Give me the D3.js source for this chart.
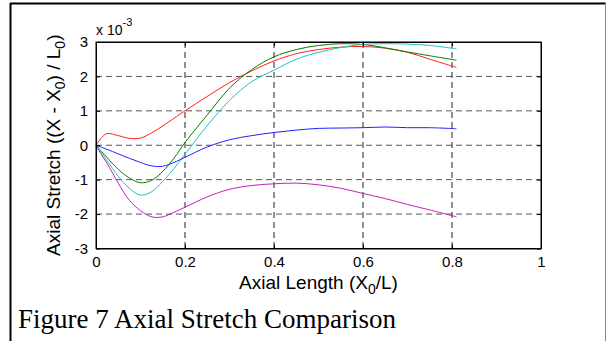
<!DOCTYPE html>
<html>
<head>
<meta charset="utf-8">
<script src="https://cdn.jsdelivr.net/npm/d3@7"></script>
<style>
  body { margin: 0; background: #fff; }
  svg text { font-family: "Liberation Sans", Arial, sans-serif; fill: #000; }
  .caption { font-family: "Liberation Serif", "Times New Roman", serif; }
</style>
</head>
<body>
<div id="chart"></div>
<script>
// data (values in units of 1e-3)
var xs = [0, 0.0125, 0.025, 0.05, 0.075, 0.1, 0.125, 0.15, 0.175, 0.2, 0.25, 0.3, 0.35, 0.4, 0.45, 0.5, 0.55, 0.6, 0.65, 0.7, 0.75, 0.81];
var red     = [0, 0.22, 0.34, 0.28, 0.2, 0.21, 0.36, 0.56, 0.78, 1.0, 1.42, 1.82, 2.16, 2.45, 2.66, 2.78, 2.85, 2.87, 2.82, 2.7, 2.5, 2.26];
var green   = [0, -0.18, -0.36, -0.7, -0.95, -1.09, -1.02, -0.76, -0.38, 0.08, 0.88, 1.66, 2.2, 2.57, 2.78, 2.9, 2.95, 2.93, 2.83, 2.71, 2.6, 2.47];
var cyan    = [0, -0.22, -0.45, -0.9, -1.25, -1.45, -1.35, -1.05, -0.68, -0.26, 0.57, 1.3, 1.85, 2.18, 2.5, 2.7, 2.84, 2.93, 2.95, 2.94, 2.9, 2.8];
var blue    = [0, -0.06, -0.12, -0.25, -0.38, -0.5, -0.6, -0.61, -0.5, -0.35, -0.05, 0.16, 0.28, 0.37, 0.44, 0.49, 0.5, 0.51, 0.53, 0.51, 0.51, 0.48];
var magenta = [0, -0.28, -0.53, -1.1, -1.6, -1.9, -2.08, -2.08, -1.95, -1.8, -1.5, -1.28, -1.17, -1.12, -1.1, -1.15, -1.25, -1.4, -1.55, -1.72, -1.88, -2.08];

var xTicks = [0, 0.2, 0.4, 0.6, 0.8, 1];
var yTicks = [-3, -2, -1, 0, 1, 2, 3];

var series = [
    {vals: red, color: "#ff2020"},
    {vals: green, color: "#008000"},
    {vals: cyan, color: "#20c0c0"},
    {vals: blue, color: "#2020ff"},
    {vals: magenta, color: "#c020c0"}
];

// set up chart
var svgWidth = 607;
var svgHeight = 341;
var margin = {top: 42, left: 96};
var width = 445;
var height = 206.5;

var svg = d3.select("#chart")
    .append("svg")
    .attr("width", svgWidth)
    .attr("height", svgHeight);

// page frame
svg.append("line").attr("x1", 10.5).attr("x2", 10.5).attr("y1", 3).attr("y2", svgHeight)
    .attr("stroke", "#000").attr("stroke-width", 2);
svg.append("line").attr("x1", 10).attr("x2", 606).attr("y1", 3.5).attr("y2", 3.5)
    .attr("stroke", "#000").attr("stroke-width", 2);
svg.append("line").attr("x1", 605.5).attr("x2", 605.5).attr("y1", 3).attr("y2", svgHeight)
    .attr("stroke", "#888").attr("stroke-width", 1);

var chartGroup = svg.append("g")
    .attr("transform", `translate(${margin.left}, ${margin.top})`);

var xScale = d3.scaleLinear().domain([0, 1]).range([0, width]);
var yScale = d3.scaleLinear().domain([-3, 3]).range([height, 0]);

// grid
chartGroup.selectAll(".hgrid")
    .data(yTicks.slice(1, -1))
    .enter()
    .append("line")
    .attr("x1", 0).attr("x2", width)
    .attr("y1", d => yScale(d)).attr("y2", d => yScale(d))
    .attr("stroke", "#555").attr("stroke-dasharray", "6,4");

chartGroup.selectAll(".vgrid")
    .data(xTicks.slice(1, -1))
    .enter()
    .append("line")
    .attr("x1", d => xScale(d)).attr("x2", d => xScale(d))
    .attr("y1", 0).attr("y2", height)
    .attr("stroke", "#222").attr("stroke-dasharray", "6,4");

// curves
var line = d3.line()
    .x((d, i) => xScale(xs[i]))
    .y(d => yScale(d))
    .curve(d3.curveCatmullRom);

chartGroup.selectAll(".curve")
    .data(series)
    .enter()
    .append("path")
    .attr("d", d => line(d.vals))
    .attr("fill", "none")
    .attr("stroke", d => d.color)
    .attr("stroke-width", 1);

// axes (ticks inside, box all round)
var xAxis = d3.axisBottom(xScale).tickValues(xTicks).tickFormat(d => String(d))
    .tickSizeInner(-4).tickSizeOuter(0).tickPadding(8);
var yAxis = d3.axisLeft(yScale).tickValues(yTicks).tickFormat(d => String(d))
    .tickSizeInner(-4).tickSizeOuter(0).tickPadding(8);

chartGroup.append("g")
    .attr("transform", `translate(0, ${height})`)
    .call(xAxis)
    .call(g => g.selectAll("text").attr("font-size", 15).attr("font-family", "Liberation Sans"));

chartGroup.append("g")
    .call(yAxis)
    .call(g => g.selectAll("text").attr("font-size", 15).attr("font-family", "Liberation Sans"));

chartGroup.append("g")
    .call(d3.axisTop(xScale).tickValues(xTicks).tickSizeInner(-4).tickSizeOuter(0).tickFormat(""));
chartGroup.append("g")
    .attr("transform", `translate(${width}, 0)`)
    .call(d3.axisRight(yScale).tickValues(yTicks).tickSizeInner(-4).tickSizeOuter(0).tickFormat(""));

chartGroup.selectAll(".domain").attr("stroke", "#000");
chartGroup.selectAll(".tick line").attr("stroke", "#000");

chartGroup.append("rect")
    .attr("width", width).attr("height", height)
    .attr("fill", "none").attr("stroke", "#000");

// exponent label
var expo = chartGroup.append("text")
    .attr("x", 0)
    .attr("y", -7)
    .attr("font-size", 14);
expo.append("tspan").text("x 10");
expo.append("tspan").attr("dy", -9).attr("font-size", 11).text("-3");

// x label
var xLabel = chartGroup.append("text")
    .attr("x", width / 2)
    .attr("y", height + 40)
    .attr("text-anchor", "middle")
    .attr("font-size", 19);
xLabel.append("tspan").text("Axial Length (X");
xLabel.append("tspan").attr("dy", 5).attr("font-size", 14).text("0");
xLabel.append("tspan").attr("dy", -5).text("/L)");

// y label
var yLabel = chartGroup.append("text")
    .attr("transform", `translate(-36, ${height / 2}) rotate(-90)`)
    .attr("text-anchor", "middle")
    .attr("font-size", 19);
yLabel.append("tspan").text("Axial Stretch ((X - X");
yLabel.append("tspan").attr("dy", 5).attr("font-size", 14).text("0");
yLabel.append("tspan").attr("dy", -5).text(") / L");
yLabel.append("tspan").attr("dy", 5).attr("font-size", 14).text("0");
yLabel.append("tspan").attr("dy", -5).text(")");

// caption
svg.append("text")
    .attr("class", "caption")
    .attr("x", 18)
    .attr("y", 328)
    .attr("font-size", 27)
    .text("Figure 7 Axial Stretch Comparison");
</script>
</body>
</html>
